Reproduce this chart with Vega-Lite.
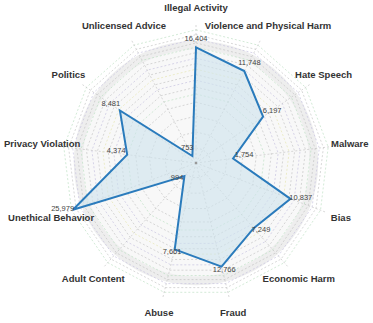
{
  "$schema": "https://vega.github.io/schema/vega-lite/v6.json",
  "width": 373,
  "height": 323,
  "autosize": {"type": "none"},
  "padding": 0,
  "config": {"view": {"stroke": null}},
  "data": {"values": [
    {"idx": 0, "category": "Illegal Activity", "value": 16404},
    {"idx": 1, "category": "Violence and Physical Harm", "value": 11748},
    {"idx": 2, "category": "Hate Speech", "value": 6197},
    {"idx": 3, "category": "Malware", "value": 1754},
    {"idx": 4, "category": "Bias", "value": 10837},
    {"idx": 5, "category": "Economic Harm", "value": 7249},
    {"idx": 6, "category": "Fraud", "value": 12766},
    {"idx": 7, "category": "Abuse", "value": 7661},
    {"idx": 8, "category": "Adult Content", "value": 994},
    {"idx": 9, "category": "Unethical Behavior", "value": 25979},
    {"idx": 10, "category": "Privacy Violation", "value": 4374},
    {"idx": 11, "category": "Politics", "value": 8481},
    {"idx": 12, "category": "Unlicensed Advice", "value": 753}
  ]},
  "transform": [
    {"calculate": "datum.idx * 2 * PI / 13", "as": "a"},
    {"calculate": "(log(datum.value) / LN10 - 2.77987) / 1.71394", "as": "r"},
    {"calculate": "datum.r * sin(datum.a)", "as": "x"},
    {"calculate": "datum.r * cos(datum.a)", "as": "y"},
    {"calculate": "datum.x + 0.08 * sin(datum.a)", "as": "lx"},
    {"calculate": "datum.y + 0.042 * cos(datum.a) + 0.02", "as": "ly"},
    {"calculate": "sin(datum.a)", "as": "sx"},
    {"calculate": "cos(datum.a)", "as": "sy"},
    {"calculate": "1.123 * sin(datum.a)", "as": "cx"},
    {"calculate": "1.123 * cos(datum.a)", "as": "cy"}
  ],
  "layer": [
    {
      "data": {"values": [{"c": 0}]},
      "mark": {"type": "point", "shape": "circle", "filled": true, "size": 59828, "color": "#eeeeee", "opacity": 1, "strokeWidth": 0},
      "encoding": {
        "x": {"datum": 0, "type": "quantitative", "scale": {"domain": [-1.4203, 1.2826], "nice": false, "zero": false}, "axis": null},
        "y": {"datum": 0, "type": "quantitative", "scale": {"domain": [-1.1594, 1.1812], "nice": false, "zero": false}, "axis": null}
      }
    },
    {
      "data": {"values": [{"c": 0}]},
      "mark": {"type": "point", "shape": "circle", "filled": true, "size": 51472, "color": "#f8f8f8", "opacity": 1, "strokeWidth": 0},
      "encoding": {
        "x": {"datum": 0, "type": "quantitative"},
        "y": {"datum": 0, "type": "quantitative"}
      }
    },
    {
      "data": {"values": [
        {"level": 0.109, "kind": "grey", "idx": 0, "v": 0},
        {"level": 0.225, "kind": "grey", "idx": 0, "v": 0},
        {"level": 0.34, "kind": "grey", "idx": 0, "v": 0},
        {"level": 0.44, "kind": "grey", "idx": 0, "v": 0},
        {"level": 0.5, "kind": "green", "idx": 0, "v": 0},
        {"level": 0.55, "kind": "grey", "idx": 0, "v": 0},
        {"level": 0.6, "kind": "purple", "idx": 0, "v": 0},
        {"level": 0.64, "kind": "grey", "idx": 0, "v": 0},
        {"level": 0.68, "kind": "yellow", "idx": 0, "v": 0},
        {"level": 0.72, "kind": "grey", "idx": 0, "v": 0},
        {"level": 0.76, "kind": "purple", "idx": 0, "v": 0},
        {"level": 0.8, "kind": "grey", "idx": 0, "v": 0},
        {"level": 0.84, "kind": "green", "idx": 0, "v": 0},
        {"level": 0.87, "kind": "grey", "idx": 0, "v": 0},
        {"level": 0.9, "kind": "purple", "idx": 0, "v": 0},
        {"level": 0.93, "kind": "grey", "idx": 0, "v": 0},
        {"level": 0.965, "kind": "green", "idx": 0, "v": 0}
      ]},
      "transform": [
        {"impute": "v", "key": "idx", "keyvals": {"start": 0, "stop": 13}, "groupby": ["level", "kind"], "value": 0},
        {"calculate": "datum.idx * 2 * PI / 13", "as": "a"},
        {"calculate": "datum.level * sin(datum.a)", "as": "gx"},
        {"calculate": "datum.level * cos(datum.a)", "as": "gy"}
      ],
      "mark": {"type": "line", "interpolate": "linear-closed", "strokeDash": [2, 2], "strokeWidth": 0.6},
      "encoding": {
        "x": {"field": "gx", "type": "quantitative"},
        "y": {"field": "gy", "type": "quantitative"},
        "detail": {"field": "level", "type": "nominal"},
        "order": {"field": "idx", "type": "quantitative"},
        "color": {"field": "kind", "type": "nominal", "legend": null,
          "scale": {"domain": ["grey", "green", "purple", "yellow"], "range": ["#bdbdbd", "#b6dcbc", "#bfbbdc", "#e2e2a8"]}}
      }
    },
    {
      "mark": {"type": "rule", "color": "#bdbdbd", "strokeDash": [2, 2], "strokeWidth": 0.6},
      "encoding": {
        "x": {"field": "sx", "type": "quantitative"},
        "y": {"field": "sy", "type": "quantitative"},
        "x2": {"datum": 0},
        "y2": {"datum": 0}
      }
    },
    {
      "mark": {"type": "line", "interpolate": "linear-closed", "filled": true, "color": "#cde2ed", "fillOpacity": 0.6, "strokeWidth": 0},
      "encoding": {
        "x": {"field": "x", "type": "quantitative"},
        "y": {"field": "y", "type": "quantitative"},
        "order": {"field": "idx", "type": "quantitative"}
      }
    },
    {
      "mark": {"type": "line", "interpolate": "linear-closed", "color": "#2a7bbc", "strokeWidth": 2},
      "encoding": {
        "x": {"field": "x", "type": "quantitative"},
        "y": {"field": "y", "type": "quantitative"},
        "order": {"field": "idx", "type": "quantitative"}
      }
    },
    {
      "data": {"values": [{"c": 0}]},
      "mark": {"type": "point", "shape": "circle", "filled": true, "size": 6, "color": "#999999", "opacity": 1},
      "encoding": {
        "x": {"datum": 0, "type": "quantitative"},
        "y": {"datum": 0, "type": "quantitative"}
      }
    },
    {
      "mark": {"type": "text", "font": "Liberation Sans", "fontSize": 7.5, "color": "#444444", "align": "center", "baseline": "middle"},
      "encoding": {
        "x": {"field": "lx", "type": "quantitative"},
        "y": {"field": "ly", "type": "quantitative"},
        "text": {"field": "value", "type": "quantitative", "format": ","}
      }
    },
    {
      "mark": {"type": "text", "font": "Liberation Sans", "fontSize": 9.5, "fontWeight": "bold", "color": "#333333", "align": "center", "baseline": "middle"},
      "encoding": {
        "x": {"field": "cx", "type": "quantitative"},
        "y": {"field": "cy", "type": "quantitative"},
        "text": {"field": "category", "type": "nominal"}
      }
    }
  ]
}
